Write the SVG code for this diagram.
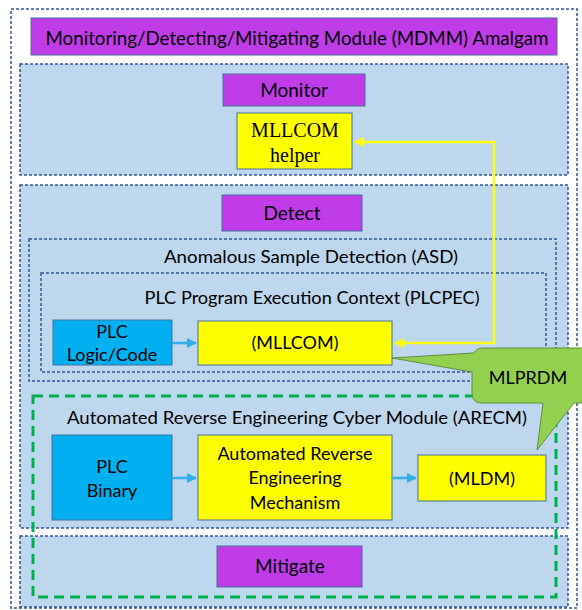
<svg xmlns="http://www.w3.org/2000/svg" width="582" height="610" viewBox="0 0 582 610">
<defs>
<style>
.sec{fill:#bdd7ee;stroke:#2f5597;stroke-width:1.5;stroke-dasharray:3 2}
.purple{fill:#bf3ce8;stroke:#41719c;stroke-width:1}
.yellow{fill:#ffff00;stroke:#41719c;stroke-width:1}
.blue{fill:#00b0f0;stroke:#41719c;stroke-width:1}
.t{font-family:Lato,"Liberation Sans",sans-serif;fill:#000;text-anchor:middle;dominant-baseline:central}
.s{fill:#000;text-anchor:middle;dominant-baseline:central;font-size:20px}
.conn{fill:none;stroke:#33aeea;stroke-width:2.5}
.ycon{fill:none;stroke:#ffff00;stroke-width:2.5}
</style>
<marker id="ab" viewBox="0 0 10 10" refX="9" refY="5" markerWidth="4" markerHeight="4" orient="auto-start-reverse" markerUnits="strokeWidth">
<path d="M0,0 L10,5 L0,10 z" fill="#33aeea"/>
</marker>
<marker id="ay" viewBox="0 0 10 10" refX="9" refY="5" markerWidth="4" markerHeight="4" orient="auto-start-reverse" markerUnits="strokeWidth">
<path d="M0,0 L10,5 L0,10 z" fill="#ffff00"/>
</marker>
</defs>
<rect width="582" height="610" fill="#ffffff"/>
<g id="outer">
<rect x="11" y="9" width="566" height="599" fill="#ffffff" stroke="#2f5597" stroke-width="1.5" stroke-dasharray="3 2"/>
</g>
<g id="title">
<rect class="purple" x="31" y="18" width="526" height="37"/>
<text class="t" x="297" y="37" font-size="20" textLength="503" lengthAdjust="spacingAndGlyphs">Monitoring/Detecting/Mitigating Module (MDMM) Amalgam</text>
</g>
<g id="monitor-section">
<rect class="sec" x="20" y="64" width="548" height="111"/>
</g>
<g id="monitor">
<rect class="purple" x="223" y="74" width="142" height="32"/>
<text class="t" x="294" y="89" font-size="19">Monitor</text>
</g>
<g id="mllcom-helper">
<rect class="yellow" x="237" y="113" width="115" height="56"/>
<text class="s" font-family="'Liberation Serif', 'Times New Roman', serif" x="295" y="130">MLLCOM</text>
<text class="s" font-family="'Liberation Serif', 'Times New Roman', serif" x="295" y="155">helper</text>
</g>
<g id="detect-section">
<rect class="sec" x="20" y="185" width="548" height="343"/>
</g>
<g id="detect">
<rect class="purple" x="222" y="195" width="140" height="36"/>
<text class="t" x="292" y="212" font-size="19">Detect</text>
</g>
<g id="asd">
<rect class="sec" x="29" y="239" width="527" height="142"/>
<text class="t" x="311" y="256" font-size="18" textLength="294" lengthAdjust="spacingAndGlyphs">Anomalous Sample Detection (ASD)</text>
</g>
<g id="plcpec">
<rect class="sec" x="41" y="273" width="505" height="99"/>
<text class="t" x="312" y="297" font-size="18" textLength="335" lengthAdjust="spacingAndGlyphs">PLC Program Execution Context (PLCPEC)</text>
</g>
<g id="plc-logic">
<rect class="blue" x="53" y="320" width="119" height="45"/>
<text class="t" x="112" y="331" font-size="18">PLC</text>
<text class="t" x="112" y="354" font-size="18">Logic/Code</text>
</g>
<g id="mllcom">
<rect class="yellow" x="198" y="321" width="194" height="44"/>
<text class="t" x="295" y="342" font-size="18">(MLLCOM)</text>
</g>
<g id="mitigate-section">
<rect class="sec" x="20" y="536" width="548" height="71"/>
</g>
<g id="arecm">
<rect x="33" y="396" width="523" height="201" fill="none" stroke="#00b050" stroke-width="3" stroke-dasharray="10 6"/>
<text class="t" x="297" y="417" font-size="18" textLength="460" lengthAdjust="spacingAndGlyphs">Automated Reverse Engineering Cyber Module (ARECM)</text>
</g>
<g id="plc-binary">
<rect class="blue" x="52" y="435" width="120" height="85"/>
<text class="t" x="112" y="466" font-size="18">PLC</text>
<text class="t" x="112" y="490" font-size="18">Binary</text>
</g>
<g id="mechanism">
<rect class="yellow" x="198" y="435" width="194" height="85"/>
<text class="t" x="295" y="453" font-size="18">Automated Reverse</text>
<text class="t" x="295" y="477" font-size="18">Engineering</text>
<text class="t" x="295" y="502" font-size="18">Mechanism</text>
</g>
<g id="mldm">
<rect class="yellow" x="418" y="455" width="128" height="46"/>
<text class="t" x="482" y="478" font-size="18">(MLDM)</text>
</g>
<g id="mitigate">
<rect class="purple" x="217" y="546" width="145" height="41"/>
<text class="t" x="290" y="565" font-size="19">Mitigate</text>
</g>
<g id="connectors">
<path class="conn" d="M172,343 L196,343" marker-end="url(#ab)"/>
<path class="conn" d="M172,478 L196,478" marker-end="url(#ab)"/>
<path class="conn" d="M392,478 L416,478" marker-end="url(#ab)"/>
<path class="ycon" d="M395,343 L494,343 L494,142 L355,142" marker-start="url(#ay)" marker-end="url(#ay)"/>
</g>
<g id="mlprdm">
<path d="M484,348 L600,348 L600,403 L574,403 L537,450 L543,403 L482,403 Q472,403 472,393 L472,372 L392,358 L474,353 Q476,348 484,348 Z" fill="#92d050" stroke="#5e8f3e" stroke-width="1"/>
<text class="t" x="528" y="377" font-size="18">MLPRDM</text>
</g>
</svg>
